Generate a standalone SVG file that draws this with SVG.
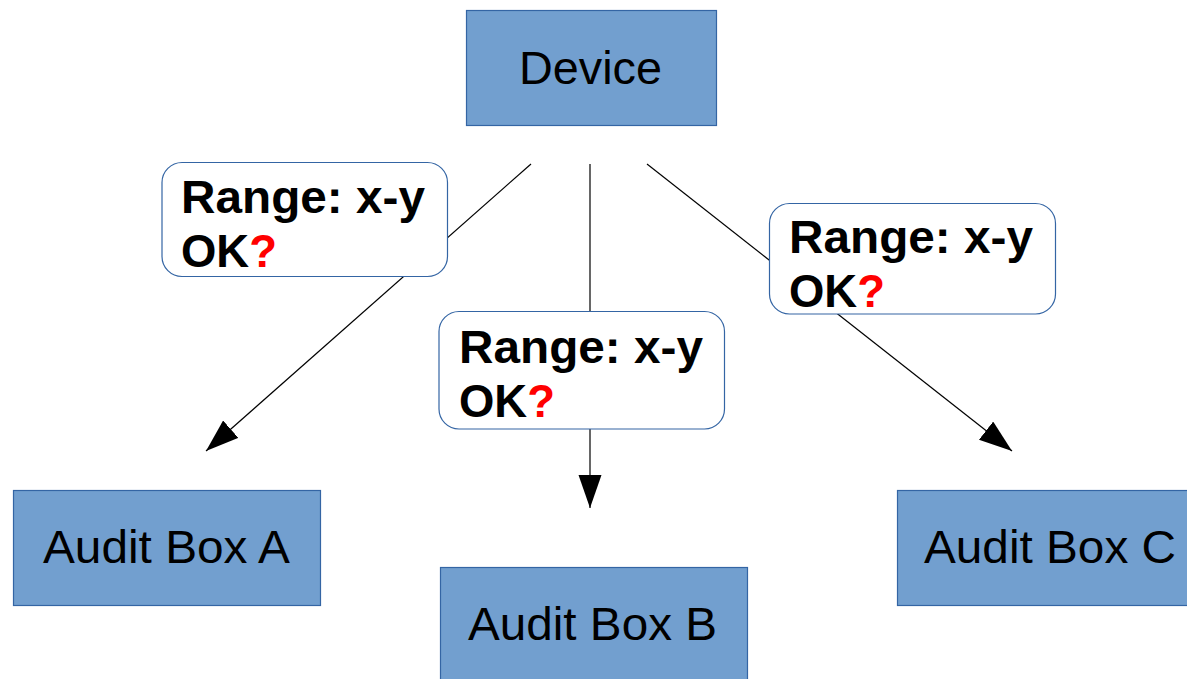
<svg xmlns="http://www.w3.org/2000/svg" width="1187" height="679" viewBox="0 0 1187 679">
<style>
.box{fill:#729fcf;stroke:#3465a4;stroke-width:1.2}
.lbl{fill:#ffffff;stroke:#3465a4;stroke-width:1.2}
.t{font-family:"Liberation Sans",Arial,sans-serif;font-size:47px;fill:#000000;text-anchor:middle}
.r{font-family:"Liberation Sans",Arial,sans-serif;font-size:46px;font-weight:bold;fill:#000000}
.q{fill:#ff0000}
.c{stroke:#000000;stroke-width:1.2;fill:none;marker-end:url(#ah)}
</style>
<defs>
<marker id="ah" markerUnits="userSpaceOnUse" markerWidth="34" markerHeight="24" refX="33" refY="11.5" orient="auto">
<path d="M0,0 L33,11.5 L0,23 z" fill="#000000"/>
</marker>
</defs>
<g id="connectors">
<line class="c" x1="531" y1="164" x2="206" y2="451"/>
<line class="c" x1="590" y1="164" x2="590" y2="508"/>
<line class="c" x1="647" y1="164" x2="1012" y2="451"/>
</g>
<g id="device">
<rect class="box" x="466.5" y="10.5" width="250" height="115"/>
<text class="t" x="590.5" y="84" textLength="143" lengthAdjust="spacingAndGlyphs">Device</text>
</g>
<g id="audit-a">
<rect class="box" x="13.5" y="490.5" width="307" height="115"/>
<text class="t" x="166.5" y="563" textLength="247" lengthAdjust="spacingAndGlyphs">Audit Box A</text>
</g>
<g id="audit-b">
<rect class="box" x="440.5" y="567.5" width="307" height="115"/>
<text class="t" x="592.5" y="640" textLength="249" lengthAdjust="spacingAndGlyphs">Audit Box B</text>
</g>
<g id="audit-c">
<rect class="box" x="897.5" y="490.5" width="307" height="115"/>
<text class="t" x="1050" y="563" textLength="252" lengthAdjust="spacingAndGlyphs">Audit Box C</text>
</g>
<g id="label-a">
<rect class="lbl" x="162" y="162.5" width="285.5" height="114" rx="20"/>
<text class="r" x="181" y="213" textLength="244" lengthAdjust="spacingAndGlyphs">Range: x-y</text>
<text class="r" x="181" y="267" textLength="96" lengthAdjust="spacingAndGlyphs">OK<tspan class="q">?</tspan></text>
</g>
<g id="label-b">
<rect class="lbl" x="439" y="311.5" width="285.5" height="117.5" rx="20"/>
<text class="r" x="459" y="363" textLength="244" lengthAdjust="spacingAndGlyphs">Range: x-y</text>
<text class="r" x="459" y="417" textLength="96" lengthAdjust="spacingAndGlyphs">OK<tspan class="q">?</tspan></text>
</g>
<g id="label-c">
<rect class="lbl" x="769.5" y="203.5" width="286" height="110.5" rx="20"/>
<text class="r" x="789" y="253" textLength="244" lengthAdjust="spacingAndGlyphs">Range: x-y</text>
<text class="r" x="789" y="307" textLength="96" lengthAdjust="spacingAndGlyphs">OK<tspan class="q">?</tspan></text>
</g>
</svg>
